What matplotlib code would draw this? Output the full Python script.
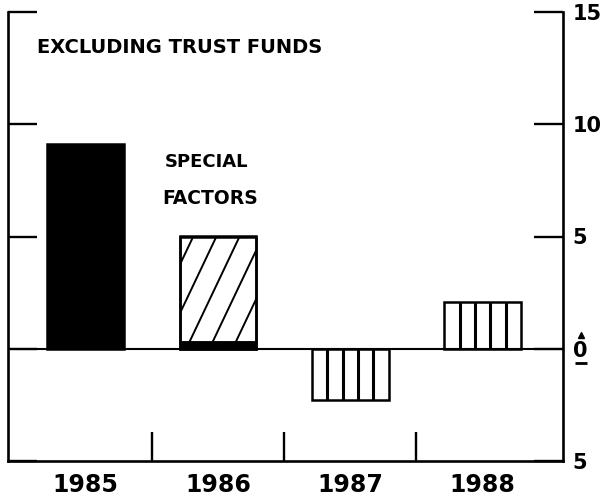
import numpy as np
import matplotlib
matplotlib.use('Agg')
import matplotlib.pyplot as plt

# budget change by year, percent
years = ['1985', '1986', '1987', '1988']
solid_vals = [9.1, 0.3, 0.0, 0.0]      # black part
special_vals = [0.0, 4.7, 0.0, 0.0]    # special factors, stacked on black part
striped_vals = [0.0, 0.0, -2.3, 2.1]   # vertical stripes

ytick_vals = [15, 10, 5, 0, -5]
ytick_text = ['15', '10', '5', '0', '5']

plt.rcParams['font.family'] = 'DejaVu Sans'
plt.rcParams['font.weight'] = 'bold'

fig = plt.figure(figsize=(6.02, 4.96), dpi=100)
ax = fig.add_axes([8 / 602, 35 / 496, 555 / 602, 449 / 496])

x = np.arange(len(years))
w = 0.58
lw = 1.8

# solid black bars
for xi, v in zip(x, solid_vals):
    if v != 0:
        ax.bar(xi, v, w, color='black', edgecolor='black', linewidth=lw, zorder=3)

# special factors: diagonal hatch drawn by hand, clipped to the bar
for xi, b, v in zip(x, solid_vals, special_vals):
    if v == 0:
        continue
    rect = ax.bar(xi, v, w, bottom=b, color='white', edgecolor='black',
                  linewidth=lw, zorder=2)[0]
    ax.bar(xi, b + v, w, fill=False, edgecolor='black', linewidth=lw, zorder=4)
    slope = 12.4
    left = xi - w / 2
    for x0 in np.arange(left - 0.45, left + w + 0.05, 0.175):
        ln, = ax.plot([x0, x0 + 6 / slope], [b, b + 6], color='black',
                      lw=1.4, zorder=3)
        ln.set_clip_path(rect)

# vertically striped bars
for xi, v in zip(x, striped_vals):
    if v == 0:
        continue
    ax.bar(xi, v, w, color='white', edgecolor='black', linewidth=lw, zorder=3)
    xs = np.linspace(xi - w / 2, xi + w / 2, 6)[1:-1]
    ax.vlines(xs, 0, v, color='black', lw=2.2, zorder=4)

ax.axhline(0, color='black', lw=1.5, zorder=5)

ax.set_xlim(-0.586, 3.608)
ax.set_ylim(-5, 15)

ax.spines['top'].set_visible(False)
for s in ['left', 'right', 'bottom']:
    ax.spines[s].set_linewidth(1.9)

ax.set_yticks(ytick_vals)
ax.set_yticklabels(ytick_text, fontsize=15, fontweight='bold')
ax.tick_params(axis='y', direction='in', length=21, width=1.7,
               left=True, right=True, labelleft=False, labelright=True, pad=7)

ax.set_xticks([0.5, 1.5, 2.5])
ax.set_xticklabels([])
ax.set_xticks(x, minor=True)
ax.set_xticklabels(years, minor=True, fontsize=17, fontweight='bold')
ax.tick_params(axis='x', which='major', direction='in', length=21, width=1.7)
ax.tick_params(axis='x', which='minor', length=0, pad=9)

# little up/down marks around the zero label
tr = ax.get_yaxis_transform()
ax.plot([1.033], [0.6], marker='^', ms=5, color='black', transform=tr, clip_on=False)
ax.plot([1.033], [-0.65], marker='_', ms=8, mew=2, color='black', transform=tr, clip_on=False)

ax.text(-0.37, 13.4, 'EXCLUDING TRUST FUNDS', fontsize=14, fontweight='bold',
        va='center', ha='left')
ax.text(0.595, 8.3, 'SPECIAL', fontsize=13, fontweight='bold', va='center', ha='left')
ax.text(0.58, 6.7, 'FACTORS', fontsize=13.5, fontweight='bold', va='center', ha='left')

fig.savefig('out.png', dpi=100)
